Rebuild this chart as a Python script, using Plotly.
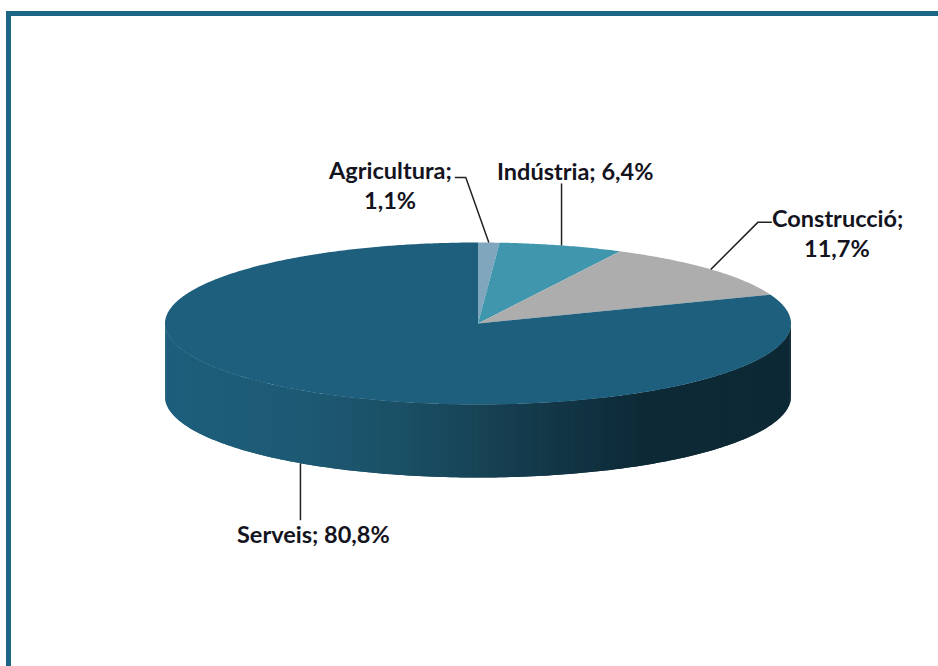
import numpy as np
import plotly.graph_objects as go

# ---- data ----
categories = ["Agricultura", "Indústria", "Construcció", "Serveis"]
shares = [1.1, 6.4, 11.7, 80.8]

# ---- style / layout ----
W, H = 938, 666
top_colors = ["#7FA6BD", "#3F96AD", "#ADADAD", "#1E5F7E"]
border = "#1C6685"
cx, cy, rx, ry, depth = 478.0, 323.5, 313.0, 81.0, 73.0
grad_x = [165, 300, 400, 470, 560, 640, 791]
grad_rgb = [(30, 95, 125), (29, 90, 116), (27, 80, 102), (24, 69, 88), (19, 54, 70), (13, 42, 55), (13, 41, 54)]
# leader: offsets from the slice's rim point to elbow and to the end
leaders = {
    "Agricultura": [(-23, -65), (-34, -65)],
    "Indústria": [(0, -62)],
    "Construcció": [(47, -47), (61, -47)],
    "Serveis": [(0, 57)],
}
label_lines = {
    "Agricultura": [(390, 170, "{c};"), (390, 200, "{v}")],
    "Indústria": [(575, 171, "{c}; {v}")],
    "Construcció": [(837, 218, "{c};"), (837, 248, "{v}")],
    "Serveis": [(313, 534, "{c}; {v}")],
}


def pt(deg, dy=0.0):
    a = np.radians(deg)
    return cx + rx * np.sin(a), cy - ry * np.cos(a) + dy


fig = go.Figure()

# side wall: strips painted left to right, each overlapping the next so no seams show
edges = np.arange(270, 89, -1.0)
for a0 in edges[:-1]:
    a = np.linspace(a0, max(a0 - 2, 90), 3)
    xs, ys = pt(a)
    xm = pt(a0 - 0.5)[0]
    rgb = [np.interp(xm, grad_x, [c[i] for c in grad_rgb]) for i in range(3)]
    col = "rgb(%d,%d,%d)" % tuple(rgb)
    fig.add_trace(go.Scatter(
        x=np.r_[xs, xs[::-1], xs[0]], y=np.r_[ys, ys[::-1] + depth, ys[0]],
        mode="none", fill="toself", fillcolor=col, hoverinfo="skip", showlegend=False))

# top face wedges, clockwise from 12 o'clock
total = sum(shares)
start = 0.0
mids = {}
for cat, val, col in zip(categories, shares, top_colors):
    sweep = val / total * 360.0
    ang = np.linspace(start, start + sweep, max(int(sweep * 2), 4))
    xs, ys = pt(ang)
    fig.add_trace(go.Scatter(
        x=np.r_[cx, xs, cx], y=np.r_[cy, ys, cy],
        mode="none", fill="toself", fillcolor=col,
        name=cat, hoverinfo="name", showlegend=False))
    mids[cat] = start + sweep / 2
    start += sweep

# leaders, anchored at each slice's mid angle on the rim
for cat, val in zip(categories, shares):
    m = mids[cat]
    on_front = 90 < m < 270
    x0, y0 = pt(m, depth if on_front else 0)
    lx = [x0] + [x0 + d[0] for d in leaders[cat]]
    ly = [y0] + [y0 + d[1] for d in leaders[cat]]
    fig.add_trace(go.Scatter(x=lx, y=ly, mode="lines", line=dict(color="#222222", width=1.5),
                             hoverinfo="skip", showlegend=False))
    vtxt = f"{val:.1f}%".replace(".", ",")
    for tx, ty, tpl in label_lines[cat]:
        fig.add_annotation(x=tx, y=ty, text="<b>" + tpl.format(c=cat, v=vtxt) + "</b>",
                           showarrow=False, xanchor="center", yanchor="middle",
                           font=dict(family="Lato, Carlito, sans-serif", size=23.5, color="#14141E"))

fig.update_layout(
    width=W, height=H, margin=dict(l=0, r=0, t=0, b=0, pad=0),
    paper_bgcolor="white", plot_bgcolor="white",
    xaxis=dict(range=[0, W], visible=False, fixedrange=True),
    yaxis=dict(range=[H, 0], visible=False, fixedrange=True),
    shapes=[
        dict(type="rect", xref="x", yref="y", x0=6, x1=W + 2, y0=11, y1=16, fillcolor=border, line_width=0, layer="below"),
        dict(type="rect", xref="x", yref="y", x0=6, x1=11, y0=11, y1=H + 2, fillcolor=border, line_width=0, layer="below"),
    ],
)
fig.write_html("out.html", config={"displayModeBar": False},
               post_script="document.body.style.margin='0';document.body.style.overflow='hidden';")
